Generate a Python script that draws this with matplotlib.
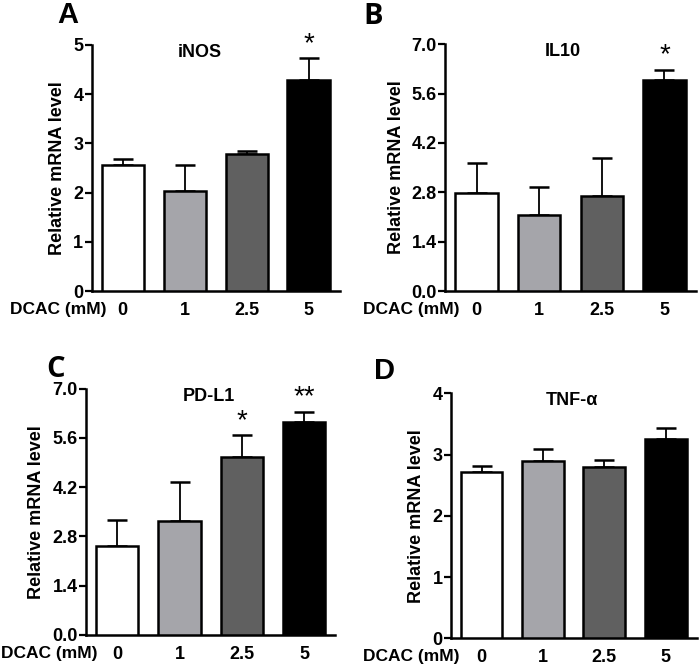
import matplotlib
matplotlib.use("Agg")
import matplotlib.pyplot as plt

doses = ["0", "1", "2.5", "5"]
bar_colors = ["#ffffff", "#a5a5aa", "#606060", "#000000"]

inos_mean = [2.55, 2.04, 2.79, 4.29]
inos_err = [0.13, 0.52, 0.06, 0.44]
il10_mean = [2.77, 2.15, 2.70, 5.98]
il10_err = [0.86, 0.81, 1.07, 0.30]
pdl1_mean = [2.53, 3.24, 5.07, 6.04]
pdl1_err = [0.73, 1.11, 0.61, 0.31]
tnf_mean = [2.71, 2.90, 2.80, 3.26]
tnf_err = [0.10, 0.19, 0.11, 0.18]

inos_sig = ["", "", "", "*"]
il10_sig = ["", "", "", "*"]
pdl1_sig = ["", "", "*", "**"]
tnf_sig = ["", "", "", ""]

FONT = "Liberation Sans"
plt.rcParams["font.family"] = [FONT, "DejaVu Sans"]

fig = plt.figure(figsize=(7.0, 6.69), dpi=100)

panels = [
    dict(rect=[0.131, 0.565, 0.354, 0.368], mean=inos_mean, err=inos_err, sig=inos_sig,
         title="iNOS", tx=1.25, ymax=5, ticks=[0, 1, 2, 3, 4, 5], fmt="{:.0f}",
         letter="A", lx=0.097, ly=0.978, lfont=FONT, dx=0.014),
    dict(rect=[0.636, 0.565, 0.358, 0.369], mean=il10_mean, err=il10_err, sig=il10_sig,
         title="IL10", tx=1.37, ymax=7.0, ticks=[0, 1.4, 2.8, 4.2, 5.6, 7.0], fmt="{:.1f}",
         letter="B", lx=0.533, ly=0.975, lfont="Open Sans", dx=0.519),
    dict(rect=[0.123, 0.051, 0.356, 0.368], mean=pdl1_mean, err=pdl1_err, sig=pdl1_sig,
         title="PD-L1", tx=1.47, ymax=7.0, ticks=[0, 1.4, 2.8, 4.2, 5.6, 7.0], fmt="{:.1f}",
         letter="C", lx=0.079, ly=0.447, lfont="Open Sans", dx=0.001),
    dict(rect=[0.644, 0.046, 0.351, 0.366], mean=tnf_mean, err=tnf_err, sig=tnf_sig,
         title="TNF-α", tx=1.48, ymax=4, ticks=[0, 1, 2, 3, 4], fmt="{:.0f}",
         letter="D", lx=0.549, ly=0.445, lfont=FONT, dx=0.519),
]

for p in panels:
    ax = fig.add_axes(p["rect"])
    x = list(range(len(doses)))
    ax.bar(x, p["mean"], width=0.68, color=bar_colors, edgecolor="black",
           linewidth=1.8, zorder=3)
    ax.errorbar(x, p["mean"], yerr=[[0] * 4, p["err"]], fmt="none", ecolor="black",
                elinewidth=1.3, capsize=7.5, capthick=1.8, zorder=2)
    for xi, m, e, s in zip(x, p["mean"], p["err"], p["sig"]):
        if s:
            ax.text(xi, m + e + p["ymax"] * 0.005, s, ha="center", va="bottom",
                    fontsize=20, family=[FONT])
    ax.set_xlim(-0.5, 3.5)
    ax.set_ylim(0, p["ymax"])
    ax.set_yticks(p["ticks"])
    ax.set_yticklabels([p["fmt"].format(t) for t in p["ticks"]],
                       fontsize=13, fontweight="bold")
    ax.set_xticks(x)
    ax.set_xticklabels(doses, fontsize=13, fontweight="bold")
    ax.tick_params(axis="x", length=0, pad=8)
    ax.tick_params(axis="y", length=5, width=1.6, pad=1)
    for side in ("top", "right"):
        ax.spines[side].set_visible(False)
    for side in ("left", "bottom"):
        ax.spines[side].set_linewidth(1.8)
    ax.set_ylabel("Relative mRNA level", fontsize=13, fontweight="bold", labelpad=5)
    ax.text(p["tx"], p["ymax"] * 0.97, p["title"], ha="center", va="center",
            fontsize=13, fontweight="bold")
    by = p["rect"][1]
    fig.text(p["dx"], by - 0.028, "DCAC (mM)", ha="left", va="center",
             fontsize=12.5, fontweight="bold")
    fig.text(p["lx"], p["ly"], p["letter"], ha="center", va="center",
             fontsize=21, fontweight="bold", family=[p["lfont"], "DejaVu Sans"])

fig.savefig("out.png", dpi=100)
